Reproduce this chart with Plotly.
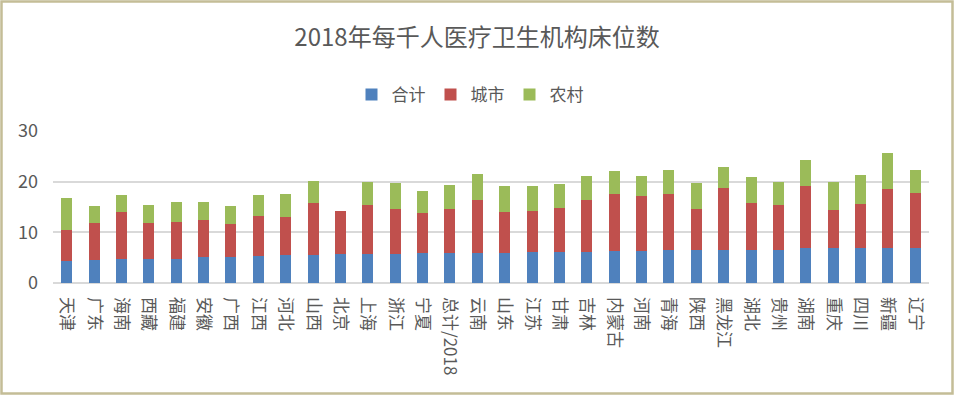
import plotly.graph_objects as go

categories = ["天津", "广东", "海南", "西藏", "福建", "安徽", "广西", "江西", "河北", "山西",
              "北京", "上海", "浙江", "宁夏", "总计/2018", "云南", "山东", "江苏", "甘肃", "吉林",
              "内蒙古", "河南", "青海", "陕西", "黑龙江", "湖北", "贵州", "湖南", "重庆", "四川",
              "新疆", "辽宁"]
heji = [4.3, 4.5, 4.7, 4.7, 4.7, 5.1, 5.1, 5.3, 5.5, 5.5,
        5.7, 5.7, 5.7, 5.9, 5.9, 5.9, 5.9, 6.1, 6.1, 6.1,
        6.3, 6.3, 6.5, 6.5, 6.5, 6.5, 6.6, 6.9, 7.0, 7.0,
        7.0, 7.0]
chengshi = [6.1, 7.3, 9.4, 7.1, 7.3, 7.3, 6.5, 7.9, 7.5, 10.2,
            8.6, 9.6, 9.0, 8.0, 8.8, 10.4, 8.2, 8.2, 8.8, 10.2,
            11.2, 10.8, 11.0, 8.2, 12.2, 9.2, 8.7, 12.2, 7.5, 8.5,
            11.5, 10.7]
nongcun = [6.3, 3.3, 3.2, 3.5, 3.9, 3.5, 3.5, 4.1, 4.5, 4.4,
           0.0, 4.6, 5.0, 4.2, 4.6, 5.3, 5.0, 4.8, 4.6, 4.8,
           4.7, 4.0, 4.9, 5.0, 4.1, 5.2, 4.6, 5.1, 5.4, 5.8,
           7.1, 4.7]
series_names = ["合计", "城市", "农村"]
y_ticks = [0, 10, 20, 30]

FONT = "Noto Sans CJK SC, Noto Sans, sans-serif"
GRAY = "#595959"

fig = go.Figure()
for name, vals, col in zip(series_names, [heji, chengshi, nongcun],
                           ["#4f81bd", "#c0504d", "#9bbb59"]):
    fig.add_trace(go.Bar(x=categories, y=vals, name=name, marker_color=col,
                         marker_line_width=0))

plot_l, plot_r, plot_t, plot_b = 53, 929, 131, 283
W, H = 954, 396
pw = plot_r - plot_l
ph = plot_b - plot_t

def px2x(px):
    return (px - plot_l) / pw

def px2y(py):
    return (plot_b - py) / ph

fig.update_layout(
    width=W, height=H,
    barmode="stack", bargap=0.6,
    margin=dict(l=plot_l, r=W - plot_r, t=plot_t, b=H - plot_b, autoexpand=False),
    paper_bgcolor="white", plot_bgcolor="white",
    font=dict(family=FONT, color=GRAY),
    title=dict(text="2018年每千人医疗卫生机构床位数", x=0.5, xanchor="center",
               y=1 - 38 / H, yanchor="middle",
               font=dict(size=24, color=GRAY, family=FONT)),
    legend=dict(orientation="h", x=px2x(470), xanchor="center", y=px2y(95), yanchor="middle",
                font=dict(size=17, color=GRAY, family=FONT), traceorder="normal",
                itemwidth=30, tracegroupgap=0, bgcolor="rgba(0,0,0,0)"),
    xaxis=dict(tickangle=90, tickfont=dict(size=17, color=GRAY, family=FONT),
               showgrid=False, showline=False, ticks="", ticklabelstandoff=13),
    yaxis=dict(range=[0, 30], tickvals=y_ticks, tickfont=dict(size=18, color=GRAY, family=FONT),
               showgrid=True, gridcolor="#d9d9d9", gridwidth=2, zeroline=True,
               zerolinecolor="#d9d9d9", zerolinewidth=2, showline=False, ticks="",
               ticklabelstandoff=14),
    shapes=[dict(type="rect", xref="paper", yref="paper",
                 x0=px2x(1.5), x1=px2x(952.5), y0=px2y(393.5), y1=px2y(1.5),
                 line=dict(color="#c4bd97", width=2.5), layer="below")],
)

fig.write_html("out.html", config={"displayModeBar": False},
               post_script="document.body.style.margin='0';document.body.style.overflow='hidden';")
